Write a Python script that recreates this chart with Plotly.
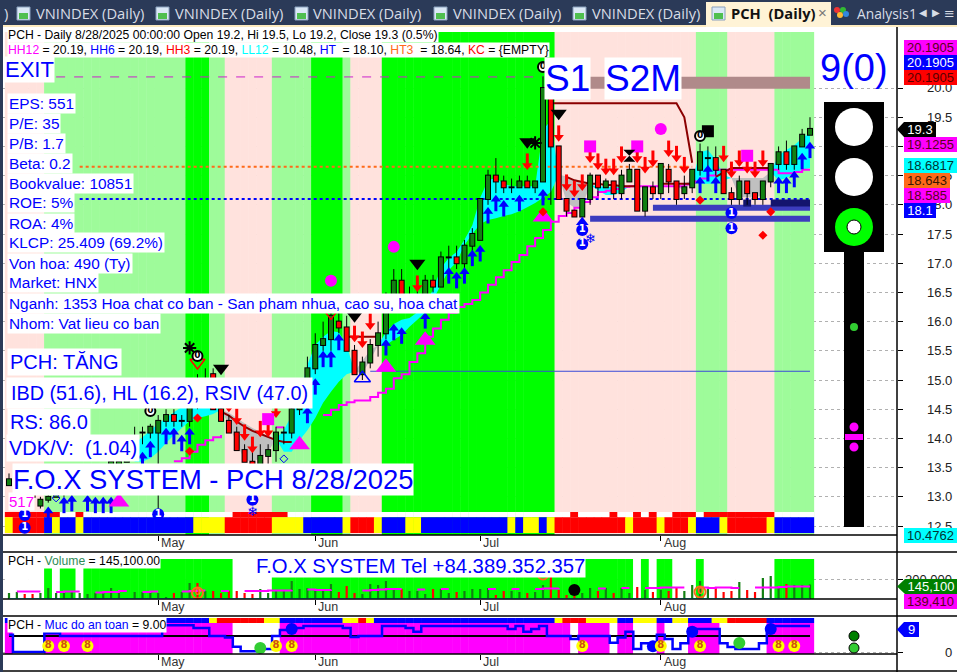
import plotly.graph_objects as go

# ---------------- data ----------------
opens = [13.2,13.3,13.3,13.2,12.85,12.95,13.0,13.1,13.1,13.2,13.2,13.3,13.4,13.4,13.5,13.6,13.8,14.1,14.1,14.1,14.3,14.4,14.3,14.3,
         15.0,14.9,15.1,14.5,14.3,14.1,13.8,13.6,13.5,13.7,13.8,14.1,14.1,14.5,14.6,15.2,15.6,15.7,16.0,15.9,15.5,15.1,15.3,15.6,15.8,
         16.4,16.7,16.4,16.3,16.4,16.7,16.6,17.1,17.1,17.0,17.3,17.4,18.1,18.5,18.4,18.3,18.3,18.4,18.3,18.4,20.0,19.0,18.1,17.9,17.8,
         18.1,18.5,18.3,18.4,18.2,18.4,18.6,17.9,18.3,18.2,18.6,18.4,18.2,18.3,18.6,18.8,18.8,18.6,18.2,18.1,18.4,18.2,18.1,18.4,18.7,
         18.9,18.7,19.0,19.2]
highs = [13.4,13.4,13.4,13.3,13.0,13.1,13.2,13.2,13.3,13.3,13.4,13.5,13.5,13.7,13.7,13.9,14.2,14.2,14.25,14.4,14.5,14.5,14.4,14.6,
         15.1,15.2,15.2,14.6,14.4,14.2,13.9,13.8,13.9,13.9,14.2,14.2,14.6,14.8,15.4,15.8,16.0,16.3,16.2,16.1,15.6,15.4,15.7,16.0,16.5,
         16.9,16.9,16.6,16.7,16.8,16.8,17.2,17.3,17.3,17.4,17.6,18.1,18.6,18.8,18.5,18.45,18.5,18.5,18.4,20.2,20.0,19.0,18.1,17.9,18.1,
         18.55,18.5,18.45,18.4,18.6,18.7,18.6,18.3,18.4,18.7,18.7,18.4,18.5,18.6,19.05,19.0,19.0,18.6,18.3,18.5,18.4,18.2,18.4,18.7,19.0,
         19.1,19.0,19.3,19.5]
lows = [13.2,13.2,13.2,13.0,12.8,12.9,13.0,13.0,13.0,13.1,13.1,13.2,13.3,13.3,13.5,13.6,13.7,13.9,14.0,12.8,14.2,14.2,14.2,14.2,
        14.5,14.7,14.5,14.3,14.1,13.8,13.6,13.5,13.4,13.5,13.6,13.9,14.0,14.4,14.5,15.1,15.5,15.5,15.8,15.5,15.1,15.0,15.2,15.4,15.7,
        16.2,16.3,16.2,16.2,16.2,16.5,16.6,16.8,16.9,16.9,17.2,17.4,18.0,18.2,18.2,18.2,18.3,18.3,18.2,18.4,18.0,18.1,17.8,17.8,17.8,
        18.0,18.15,18.3,18.1,18.1,18.4,17.9,17.8,18.1,18.1,18.2,18.0,18.1,18.2,18.5,18.6,18.5,18.2,18.0,18.0,18.0,18.0,18.0,18.3,18.6,
        18.6,18.6,19.0,19.2]
closes = [13.3,13.3,13.2,13.0,12.95,13.0,13.1,13.1,13.2,13.2,13.3,13.4,13.4,13.6,13.6,13.8,14.0,14.1,14.2,14.3,14.4,14.3,14.3,14.55,
          14.6,15.0,14.5,14.3,14.1,13.8,13.6,13.5,13.7,13.8,14.1,14.1,14.5,14.6,15.2,15.6,15.7,16.1,15.9,15.5,15.1,15.3,15.6,15.8,16.4,
          16.7,16.4,16.4,16.4,16.7,16.6,17.1,17.1,17.0,17.3,17.5,18.1,18.5,18.4,18.3,18.3,18.4,18.3,18.4,20.0,19.0,18.1,17.9,17.8,18.1,
          18.5,18.3,18.4,18.2,18.5,18.6,17.9,18.3,18.2,18.7,18.4,18.1,18.3,18.6,18.9,18.8,18.6,18.2,18.1,18.4,18.2,18.1,18.4,18.7,18.9,
          18.7,19.0,19.2,19.3]

band_codes = ["P"]*5+["L"]*18+["G"]*3+["L"]*2+["P"]*6+["L"]*5+["G"]*4+["L"]+["P"]*4+["G"]*22+["P"]*18+["L"]*4+["P"]*6+["L"]*5
strip_codes = ["Y"]+["R"]*4+["B"]+["Y"]+["B"]*2+["Y"]+["B"]*14+["Y"]*4+["R"]*6+["Y"]*4+["B"]*5+["Y"]+["R"]*3+["Y"]+["B"]*3+["Y"]*2+["B"]*11+["Y"]+["B"]+["Y"]*2+["B"]+["Y"]+["R"]*9+["Y"]+["R"]*3+["Y"]+["R"]*3+["Y"]+["B"]*3+["Y"]+["R"]*5+["Y"]+["B"]*5
top_codes = ["R"]*7+["W"]*2+["R"]+["W"]*19+["R"]*7+["W"]*36+["R"]+["W"]*4+["R"]+["W"]*2+["R"]+["W"]+["R"]+["W"]*2+["R"]*3+["W"]+["R"]*9+["W"]*5
vol_bg_codes = ["W"]*5+["G"]+["W"]+["G"]*2+["W"]+["G"]*19+["W"]*5+["G"]*46+["W"]+["G"]+["W"]+["G"]*2+["W"]*3+["G"]+["W"]*9+["G"]*5
safe_strip_codes = ["B"]*26+["Y"]+["R"]*6+["Y"]*2+["B"]*8+["Y"]*2+["R"]+["Y"]+["B"]*23+["Y"]+["R"]*3+["Y"]*4+["B"]*2+["Y"]*3+["B"]*2+["Y"]*2+["B"]*3+["Y"]*2+["R"]*5+["B"]*6
safe_fill_codes = ["M"]+["W"]*4+["M"]*24+["W"]*6+["M"]*37+["W"]+["M"]*4+["W"]+["M"]*2+["W"]*3+["M"]+["W"]*3+["M"]*4+["W"]*6+["M"]*6

volume_k = [60,70,50,50,60,110,60,70,70,60,50,60,60,110,80,10,70,70,80,60,20,60,70,160,160,80,80,60,80,80,60,50,100,60,80,80,180,100,
            110,90,100,150,70,130,60,50,150,140,180,100,100,80,80,50,100,100,60,70,80,100,100,110,40,80,80,70,60,70,140,220,90,40,30,60,110,80,
            110,60,110,60,120,90,70,90,80,120,80,140,180,100,110,70,80,170,90,70,210,230,130,150,140,140,145.1]
vol_ma_k = [None,75,75,75,75,None,70,75,75,75,None,65,70,70,80,80,None,70,75,75,None,None,75,80,85,85,None,80,80,None,80,80,80,85,85,85,90,None,
            95,90,90,95,None,85,None,85,90,95,100,100,100,None,95,95,None,100,100,None,95,None,None,100,100,None,100,100,None,100,105,105,110,None,105,None,None,
            105,105,None,110,110,None,110,110,115,115,115,115,None,115,110,115,115,110,110,None,115,115,115,120,125,125,125,125]
safety = [6,0,0,0,0,6.5,6.5,5.5,5.5,5.5,5.5,5.5,5.5,5.5,5.5,5.5,5.5,5.5,5.5,5.5,9.3,9.3,9.3,9.3,8.3,8.3,5.5,5.5,5,1.8,0.3,0.3,1,1,5.5,7.6,8.3,8.3,
          9,9,9,9,9,8.3,5.2,5.5,5.5,5.5,9,9,9,8.3,7,9,9,9,9,9,9,9,9,9,9,9,8,9,7,8,9,5.5,5.5,5.5,4.5,5.5,5.5,5.5,5.5,3.2,5,7,1,3,1,6,4.5,1,3,8,8,8,8,3,1.7,1,1,1,3,8,9,9,9,9,9]
safety_mid = 5.5

ll_line = [None]*21+[13.61,13.66,13.77,13.89,13.97,14.02,14.06]+[None]*6+[14.19,14.19]+[None]*4+[14.4,14.49,14.57,14.62,14.65,14.65,14.71,14.78,14.85,15.03,15.1,15.31,15.46,15.74,15.88,16.03,16.15,16.25,16.3,16.37,16.5,
           16.63,16.76,16.88,17.02,17.14,17.29,17.43,17.57,17.71,17.81,17.86,17.95,18.05,18.13,18.22,18.24,18.27,18.31,18.32,18.32,18.32,18.32,18.32,18.32,18.32,18.35,18.4,18.45,18.5,18.6,18.6,18.6,18.6,18.6,18.6,18.6,18.6,18.54,18.54,18.56,18.6,18.6]
maroon_top = [None]*69+[19.74]*17+[19.5,18.72]+[None]*15
maroon_low = [None]*27+[14.46,14.39,14.29,14.2,14.13,14.08,14.02,13.97,13.94,13.94]+[None]*6+[15.74]*5+[None]*23+[18.48,18.42,18.39,18.36,18.36,18.34,18.34,18.32,18.32,18.32]+[None]*2+[18.36]*5+[None]*2+[18.48,18.55,18.63,18.63,18.63,18.63,18.63,18.63]+[None]*5
fill_upper = [14.0]*16+[13.92,14.02,14.14,14.25,14.35,14.45,14.54,14.57,14.57,14.57,14.54,14.49,14.44,14.35,14.26,14.18,14.11,14.04,13.99,
              14.14,14.4,14.74,15.26,15.6,15.74,15.84,15.82,15.6,15.14,15.33,15.51,15.6,15.82,15.96,16.03,16.06,16.16,16.32,16.54,16.92,17.09,17.19,17.4,17.65,18.12,18.42,18.46,18.36,18.32,18.32,18.32,18.32,19.28,19.45,18.51,
              18.49,18.42,18.37,18.34,18.32,18.31,18.31,18.32,18.32,18.32,18.32,18.32,18.32,18.32,18.31,18.37,18.42,18.9,18.94,18.77,18.51,18.46,18.46,18.46,18.46,18.46,18.56,18.85,18.94,19.02,19.14,19.23]
fill_lower = [14.0]*16+[13.6,13.6,13.66,13.77,13.92,14.06,14.18,14.3,14.35,14.38,14.42,14.49,14.23,13.92,13.63,13.6,13.66,13.77,13.99,
              13.77,13.77,13.97,14.14,14.35,14.61,14.8,14.97,15.1,15.14,15.12,15.34,15.6,15.6,15.69,15.77,15.91,16.03,16.16,16.37,16.63,16.88,17.02,17.31,17.5,17.67,17.74,17.77,17.81,17.84,17.89,17.96,18.03,18.12,18.22,18.51,
              18.05,17.95,17.98,18.34,18.25,18.17,18.17,18.22,18.32,18.32,18.32,18.32,18.32,18.32,18.31,18.25,18.42,18.36,18.36,18.37,18.42,18.46,18.13,18.13,18.12,18.17,18.56,18.42,18.46,18.54,18.6,18.63]
fill_runs = [(16,27,"c"),(27,34,"g"),(34,44,"c"),(44,47,"g"),(47,70,"c"),(70,74,"g"),(74,79,"c"),(85,87,"g"),(87,92,"c"),(92,97,"g"),(97,102,"c")]

blue_up_idx = [5,7,8,10,11,12,13,17,18,20,21,22,23,38,39,40,41,42,48,49,50,53,56,57,58,59,60,61,62,63,65,68,88,89,90,98,99,100,101,102]
blue_up_tip = [12.83,13.0,13.03,13.03,13.0,13.0,13.0,13.77,13.96,14.18,14.18,14.06,14.18,14.54,15.03,15.5,15.5,15.79,15.7,15.96,15.9,16.16,16.93,16.85,16.93,17.23,17.31,17.96,18.17,18.08,18.17,18.27,18.48,18.68,18.48,18.48,18.48,18.58,18.89,19.08]
red_dn_idx = [28,29,30,31,32,33,34,44,45,46,52,66,70,71,72,73,74,75,76,77,78,80,81,82,84,85,86,91,92,93,94,95,96]
red_dn_tip = [14.45,14.23,13.96,13.75,14.02,14.02,14.35,15.65,15.55,15.86,16.51,18.6,19.08,18.24,18.13,18.24,18.72,18.6,18.51,18.51,18.72,18.72,18.54,18.65,18.82,18.73,18.54,18.73,18.46,18.65,18.54,18.46,18.65]

month_idx = [19,39,60,83]
month_names = ["May","Jun","Jul","Aug"]
price_ticks = [12.5,13,13.5,14,14.5,15,15.5,16,16.5,17,17.5,18,18.5,19,19.5,20]
info_lines = ["EPS: 551","P/E: 35","P/B: 1.7","Beta: 0.2","Bookvalue: 10851","ROE: 5%","ROA: 4%","KLCP: 25.409 (69.2%)","Von hoa: 490 (Ty)","Market: HNX",
              "Nganh: 1353 Hoa chat co ban - San pham nhua, cao su, hoa chat","Nhom: Vat lieu co ban"]

N = len(closes)
idx = list(range(N))
for name, arr in [("o",opens),("h",highs),("l",lows),("band",band_codes),("strip",strip_codes),("top",top_codes),("vbg",vol_bg_codes),("ss",safe_strip_codes),
                  ("sf",safe_fill_codes),("v",volume_k),("ma",vol_ma_k),("saf",safety),("ll",ll_line),("mt",maroon_top),("ml",maroon_low),("fu",fill_upper),("fl",fill_lower)]:
    if len(arr) != N:
        print("LEN", name, len(arr), N)
        arr.extend([arr[-1]]*(N-len(arr)))
        del arr[N:]

# ---------------- palette / geometry of the window ----------------
W, H = 957, 672
BLUE = "#0000ff"; MAG = "#ff00ff"; RED = "#ff0000"; CYAN = "#00ffff"; YEL = "#ffff00"
LGREEN = "#9efb9a"; BGREEN = "#00ff00"; PINK = "#ffe2dd"; CG = "#128012"; GRAY = "#c0c0c0"; MAROON = "#8b0000"; ORANGE = "#ff6a1a"
band_map = {"P":PINK,"L":LGREEN,"G":BGREEN}
strip_map = {"R":RED,"Y":YEL,"B":BLUE,"W":"#ffffff"}

def xp(px): return px/W
def yp(py): return 1-py/H

PRICE_LO, PRICE_HI = 12.346, 21.045
BAND_TOP = 20.96
STRIP_TOP, STRIP_MID, STRIP_BOT = 12.74, 12.65, 12.38
XR = [-0.764, 113.08]

fig = go.Figure()

def bars(vals, base, top, colors, xa="x", ya="y"):
    fig.add_trace(go.Bar(x=idx, y=[top-base]*N, base=base, width=1.06, marker=dict(color=colors, line=dict(width=0)),
                         xaxis=xa, yaxis=ya, showlegend=False, hoverinfo="skip"))

bars(idx, PRICE_LO, BAND_TOP, [band_map[c] for c in band_codes])
bars(idx, STRIP_MID, STRIP_TOP, [strip_map[c] for c in top_codes])
bars(idx, STRIP_BOT, STRIP_MID, [strip_map[c] for c in strip_codes])

# moving-average ribbons
for a, b, col in fill_runs:
    xs = list(range(a, b+1))
    c = CYAN if col == "c" else GRAY
    fig.add_trace(go.Scatter(x=xs+xs[::-1], y=fill_upper[a:b+1]+fill_lower[a:b+1][::-1], fill="toself", fillcolor=c,
                             mode="none", showlegend=False, hoverinfo="skip"))

def hline(a, b, v, color, width, dash="solid"):
    fig.add_trace(go.Scatter(x=[a,b], y=[v,v], mode="lines", line=dict(color=color,width=width,dash=dash), showlegend=False, hoverinfo="skip"))

hline(6, 68, 20.19, "#cc22cc", 1, "dash")
hline(9, 87, 18.65, ORANGE, 2, "dot")
hline(9, 102, 18.1, BLUE, 2, "dot")
hline(46, 102, 15.15, "#3a4bd8", 1)
hline(74, 102, 20.09, "#b08a8a", 12)
hline(82, 102, 17.95, "#3c3cbe", 6)
hline(74, 102, 17.76, "#3c3cbe", 6)
hline(97, 102, 18.03, "#14146e", 7)
hline(93.5, 94.5, 18.03, "#14146e", 7)

fig.add_trace(go.Scatter(x=idx, y=ll_line, mode="lines", line=dict(color=MAG,width=2,shape="hv"), showlegend=False, hoverinfo="skip"))
fig.add_trace(go.Scatter(x=idx, y=maroon_top, mode="lines", line=dict(color=MAROON,width=2), showlegend=False, hoverinfo="skip"))
fig.add_trace(go.Scatter(x=idx, y=maroon_low, mode="lines", line=dict(color=MAROON,width=2), showlegend=False, hoverinfo="skip"))

# candles: wicks, then outlined bodies (scatter layer, so they sit over the ribbons)
def seg(pairs, color, width):
    sx, sy = [], []
    for i, a, b in pairs:
        sx += [i, i, None]; sy += [a, b, None]
    fig.add_trace(go.Scatter(x=sx, y=sy, mode="lines", line=dict(color=color,width=width), showlegend=False, hoverinfo="skip"))
seg([(i, lows[i], highs[i]) for i in idx], "#000000", 1)
EDGE = 0.017
seg([(i, min(opens[i],closes[i])-EDGE, max(opens[i],closes[i])+EDGE) for i in idx], "#000000", 6)
seg([(i, opens[i], closes[i]) for i in idx if closes[i] > opens[i]], CG, 4)
seg([(i, closes[i], opens[i]) for i in idx if closes[i] < opens[i]], RED, 4)

def arrows(ix, tips, color, up=True):
    sgn = -1 if up else 1
    sx, sy = [], []
    for i, t in zip(ix, tips):
        sx += [i, i, None]; sy += [t+sgn*0.1, t+sgn*0.28, None]
    fig.add_trace(go.Scatter(x=sx, y=sy, mode="lines", line=dict(color=color,width=3), showlegend=False, hoverinfo="skip"))
    fig.add_trace(go.Scatter(x=ix, y=[t+sgn*0.075 for t in tips], mode="markers",
                             marker=dict(symbol="triangle-up" if up else "triangle-down", size=9, color=color, line=dict(width=0)),
                             showlegend=False, hoverinfo="skip"))
arrows(blue_up_idx, blue_up_tip, BLUE, True)
arrows(red_dn_idx, red_dn_tip, RED, False)

def mk(ix, ys, symbol, size, color, lc=None, lw=0, text=None, tc="#ffffff", ts=10, xa="x", ya="y"):
    fig.add_trace(go.Scatter(x=ix, y=ys, mode="markers+text" if text else "markers", cliponaxis=False,
        marker=dict(symbol=symbol, size=size, color=color, line=dict(color=lc or color, width=lw)),
        text=[text]*len(ix) if text else None, textposition="middle center",
        textfont=dict(family="DejaVu Sans", size=ts, color=tc), xaxis=xa, yaxis=ya, showlegend=False, hoverinfo="skip"))

mk([49,41,83],[17.28,16.7,19.3],"circle",12,MAG)
mk([74,80,94,33],[19.0,19.0,18.84,14.33],"square",12,MAG)
mk([14,37,53,48,68],[12.91,13.89,15.68,15.22,17.79],"triangle-up",18,MAG)
mk([52,27,44,66,70],[17.0,15.2,16.1,19.08,19.57],"triangle-down",14,"#000000")
mk([89],[19.26],"square",12,"#000000")
mk([79],[18.84],"hourglass",12,"#000000")
mk([24,23,68,88,97,96],[14.35,13.78,17.88,18.08,17.88,17.48],"diamond",7,RED)
mk([35,6],[13.65,12.98],"diamond-open",6,BLUE,BLUE,1)
mk([45],[15.03],"triangle-up-open",14,BLUE,BLUE,1.5)
mk([73],[17.7],"triangle-up",11,BLUE)
mk([24,41],[15.3,16.15],"triangle-down-open",13,RED,RED,1.5)
mk([23,67],[15.55,19.06],"asterisk-open",11,"#000000","#000000",2)
mk([88,18,24,68],[19.18,14.47,15.41,20.36],"circle",10,"#ffffff","#000000",2,"<b>0</b>","#000000",9)
mk([73,73,92,92,2,2,19,31],[17.57,17.33,17.86,17.6,12.69,12.47,12.7,12.95],"circle",12,BLUE,BLUE,0,"<b>1</b>","#ffffff",10)
mk([2,31,74],[12.26,12.72,17.4],"circle",1,"rgba(0,0,0,0)","rgba(0,0,0,0)",0,"❄",BLUE,13)

# volume pane
vol_colors = [CG if c >= o else RED for o, c in zip(opens, closes)]
vmap = {"G":BGREEN,"W":"#ffffff"}
bars(idx, 0, 400, [vmap[c] for c in vol_bg_codes], "x2", "y2")
fig.add_trace(go.Bar(x=idx, y=volume_k, width=0.28, marker=dict(color=vol_colors, line=dict(width=0)), xaxis="x2", yaxis="y2", showlegend=False, hoverinfo="skip"))
fig.add_trace(go.Scatter(x=idx, y=vol_ma_k, mode="lines", line=dict(color=MAG,width=2,shape="hv"), xaxis="x2", yaxis="y2", showlegend=False, hoverinfo="skip"))
fig.add_trace(go.Scatter(x=[0,102], y=[3,3], mode="lines", line=dict(color=CYAN,width=1), xaxis="x2", yaxis="y2", showlegend=False, hoverinfo="skip"))
mk([2,19,31,73,92],[-50]*5,"circle",12,BLUE,BLUE,0,"<b>1</b>","#ffffff",10,"x2","y2")
mk([18],[-50],"circle",11,"#ffffff",ORANGE,2,"<b>0</b>",ORANGE,9,"x2","y2")
mk([24,68,88],[60,250,70],"circle",11,"rgba(0,0,0,0)",ORANGE,2,"<b>0</b>",ORANGE,9,"x2","y2")
mk([72],[90],"circle",12,"#000000",xa="x2",ya="y2")

# safety pane
fmap = {"M":MAG,"W":"#ffffff"}
bars(idx, -0.69, 10.03, [fmap[c] for c in safe_fill_codes], "x3", "y3")
bars(idx, 10.03, 11.76, [strip_map[c] for c in safe_strip_codes], "x3", "y3")
fig.add_trace(go.Scatter(x=[0,102], y=[safety_mid]*2, mode="lines", line=dict(color="#000000",width=2), xaxis="x3", yaxis="y3", showlegend=False, hoverinfo="skip"))
fig.add_trace(go.Scatter(x=idx, y=safety, mode="lines", line=dict(color=BLUE,width=2.5,shape="hvh"), xaxis="x3", yaxis="y3", showlegend=False, hoverinfo="skip"))
mk([36,82,87,97],[8,2,7,8],"circle",12,BLUE,xa="x3",ya="y3")
mk([32,93],[1.4,3.1],"circle",12,"#32cd32",xa="x3",ya="y3")
mk([5,7,10,34,36,73,83,88,98,100],[2.1]*10,"circle",12,YEL,"#ffff00",0,"<b>8</b>","#d0500f",10,"x3","y3")
mk([0,5,7,10],[-3.5]*4,"circle",12,"#000000","#000000",0,"<b>9</b>","#ffffff",10,"x3","y3")
mk([2,19,31,73,92],[-3.5]*5,"circle",12,BLUE,BLUE,0,"<b>1</b>","#ffffff",10,"x3","y3")
mk([18,24,68,88],[-3.5]*4,"circle",11,"#ffffff",ORANGE,2,"<b>0</b>",ORANGE,9,"x3","y3")

# ---------------- chrome ----------------
shapes = []
def rect(x0,y0,x1,y1,fill,lc=None,lw=0):
    shapes.append(dict(type="rect",xref="paper",yref="paper",x0=xp(x0),x1=xp(x1),y0=yp(y0),y1=yp(y1),fillcolor=fill,line=dict(color=lc or fill,width=lw),layer="above"))
def circ(cx,cy,r,fill,lc=None,lw=0):
    shapes.append(dict(type="circle",xref="paper",yref="paper",x0=xp(cx-r),x1=xp(cx+r),y0=yp(cy-r),y1=yp(cy+r),fillcolor=fill,line=dict(color=lc or fill,width=lw),layer="above"))
def hl(x0,x1,y,c="#000000",w=1.5):
    shapes.append(dict(type="line",xref="paper",yref="paper",x0=xp(x0),x1=xp(x1),y0=yp(y),y1=yp(y),line=dict(color=c,width=w),layer="above"))
def poly(pts,fill):
    d = "M "+" L ".join(f"{xp(a):.5f},{yp(b):.5f}" for a,b in pts)+" Z"
    shapes.append(dict(type="path",xref="paper",yref="paper",path=d,fillcolor=fill,line=dict(width=0),layer="above"))

rect(0,0,W,25,"#2b3a58")
rect(0,25,W,27,"#fdebc0")
rect(0,25,3,H,"#2b3a58")
rect(706,2,831,27,"#fff3d6")
hl(3,897,535); hl(3,957,552); hl(3,897,599); hl(3,957,616); hl(3,897,654); hl(3,957,671)
shapes.append(dict(type="line",xref="paper",yref="paper",x0=xp(897),x1=xp(897),y0=yp(27),y1=yp(H),line=dict(color="#000000",width=1.5),layer="above"))
for ix0 in [17,156,295,434,573,712]:
    rect(ix0,7,ix0+13,20,"#dbe8f6","#8aa0bd",1)
    rect(ix0+2,13,ix0+11,19,"#4fbf4f")
for a,b,c in [(837,8,"#e33"),(843,8,"#3b3"),(840,13,"#fb3"),(846,12,"#38d")]:
    circ(a,b+2,3,c)
# traffic light
rect(824,102,884,252,"#000000")
rect(844,252,864,527,"#000000")
circ(854,127,19,"#ffffff"); circ(854,177,19,"#ffffff"); circ(854,227,19,BGREEN); circ(854,227,7,"#ffffff","#000000",1)
circ(854,327,4,"#32cd32")
circ(854,427,4.5,MAG); circ(854,447,4.5,MAG); rect(845,434,863,440,MAG)
circ(854,636,5,"#008000","#000000",1); circ(854,648,5,"#32cd32","#000000",1)

ann = []
def label(t,px,py,size,color="#000000",bg=None,anchor="left",font="Liberation Sans",pad=0):
    ann.append(dict(text=t,xref="paper",yref="paper",x=xp(px),y=yp(py),xanchor=anchor,yanchor="middle",showarrow=False,
                    font=dict(family=font,size=size,color=color),bgcolor=bg,borderpad=pad,align="left"))

# tabs
label(")",3,13,14.7,"#d8dde6",font="Open Sans")
for tx in [35,174,312,452,591]:
    label("VNINDEX (Daily)",tx,13,14.7,"#d8dde6",font="Open Sans")
label("<b>PCH  (Daily)</b>",730,13,14.7,"#111111",font="Open Sans")
label("×",817,12,15,"#777777")
label("Analysis1",856,13,13.8,"#d8dde6",font="Open Sans")
label("◀",918,12,10,"#d8dde6",font="DejaVu Sans"); label("▶",931,12,10,"#d8dde6",font="DejaVu Sans"); label("≡",943,13,13,"#d8dde6",font="DejaVu Sans")

# price axis labels
for t in price_ticks:
    label(f"{t:.1f}",953,88+(20-t)*58.4,13,"#222222",anchor="right")
label("200,000",953,579,13,"#222222",anchor="right")
label("0",953,652,13,"#222222",anchor="right")

def chip(t,y0,y1,x0,x1,bg,fg,arrow=False):
    if arrow:
        poly([(897,(y0+y1)/2),(x0,y0),(x0,y1)],bg)
    ann.append(dict(text=t,xref="paper",yref="paper",x=xp(x0),y=yp((y0+y1)/2),xanchor="left",yanchor="middle",showarrow=False,
                    width=x1-x0,height=y1-y0,bgcolor=bg,borderpad=0,borderwidth=0,align="center",valign="middle",
                    font=dict(family="Liberation Sans",size=13,color=fg)))
chip("20.1905",40,55,904,957,MAG,"#5a0020")
chip("20.1905",55,70,904,957,BLUE,"#ffffff")
chip("20.1905",70,85,904,957,RED,"#5a0000")
chip("19.3",122,137,904,936,"#000000","#ffffff",True)
chip("19.1255",137,152,904,957,MAG,"#5a0020")
chip("18.6817",158,173,904,957,CYAN,"#003333")
chip("18.643",173,188,904,950,ORANGE,"#3a1500")
chip("18.585",188,203,904,950,MAG,"#5a0020")
chip("18.1",203,218,904,936,BLUE,"#ffffff")
chip("10.4762",528,543,904,957,CYAN,"#003333")
chip("145,100",579,594,905,957,"#008000","#ffffff",True)
chip("139,410",594,609,904,957,MAG,"#5a0020")
chip("9",622,637,904,919,BLUE,"#ffffff",True)

# month labels from the month list
for i, m in zip(month_idx, month_names):
    for ya, py in [("x",543),("x2",607),("x3",662)]:
        ann.append(dict(text=m,xref=ya,yref="paper",x=i,y=yp(py),xanchor="left",yanchor="middle",xshift=1,showarrow=False,
                        font=dict(family="Liberation Sans",size=12.5,color="#333333")))

# header
label("PCH - Daily 8/28/2025 00:00:00 Open 19.2, Hi 19.5, Lo 19.2, Close 19.3 (0.5%)",7,35,12.2,"#000000","#ffffff")
def sp(t,c): return f'<span style="color:{c}">{t}</span>'
label(sp("HH12",MAG)+" = 20.19, "+sp("HH6",BLUE)+" = 20.19, "+sp("HH3",RED)+" = 20.19, "+sp("LL12",CYAN)+" = 10.48, "+sp("HT",BLUE)+"  = 18.10, "+sp("HT3",ORANGE)+"  = 18.64, "+sp("KC",RED)+" = {EMPTY}",7,50,12.2,"#000000","#ffffff")
label("EXIT",4,70,22,BLUE,"#ffffff")
for k, t in enumerate(info_lines):
    label(t,7,103+20*k,15.4,BLUE,"#ffffff",pad=1)
label("PCH: TĂNG",7,362,20,BLUE,"#ffffff",pad=2)
label("IBD (51.6), HL (16.2), RSIV (47.0)",6,393,19.8,BLUE,"#ffffff",pad=4)
label("RS: 86.0",7,422,20,BLUE,"#ffffff",pad=2)
label("VDK/V:  (1.04)",6,448,20,BLUE,"#ffffff",pad=2)
label("F.O.X SYSTEM - PCH 8/28/2025",12,479,27.4,BLUE,"#ffffff")
label("517",8,501,15,MAG,"#ffffff")
label("S1",544,78,37,BLUE,"#ffffff",pad=0)
label("S2M",604,78,37,BLUE,"#ffffff",pad=0)
label("9(0)",819,68,38,BLUE)
label("F.O.X SYSTEM Tel +84.389.352.357",255,566,20.3,BLUE,"#ffffff")
label("PCH - "+sp("Volume","#2e8b57")+" = 145,100.00",7,561,12.2,"#000000","#ffffff")
label("PCH - "+sp("Muc do an toan",BLUE)+" = 9.00",7,625,12.2,"#000000","#ffffff")

dom_x = [xp(3), xp(897)]
xbase = dict(range=XR, domain=dom_x, showgrid=False, zeroline=False, showticklabels=False, tickmode="array", tickvals=month_idx,
             ticks="outside", ticklen=5, tickcolor="#000000", showline=False, fixedrange=True)
ybase = dict(side="right", zeroline=False, showticklabels=False, showline=False, griddash="dot", gridcolor="#b0b0b0", gridwidth=1,
             ticks="outside", ticklen=5, tickcolor="#000000", tickmode="array", fixedrange=True)

fig.update_layout(
    width=W, height=H, autosize=False, margin=dict(l=0,r=0,t=0,b=0), paper_bgcolor="#ffffff", plot_bgcolor="#ffffff",
    barmode="overlay", showlegend=False, hovermode=False,
    xaxis=dict(xbase, anchor="y"),
    xaxis2=dict(xbase, anchor="y2"),
    xaxis3=dict(xbase, anchor="y3"),
    yaxis=dict(ybase, anchor="x", domain=[yp(535),yp(27)], range=[PRICE_LO,PRICE_HI], tickvals=price_ticks),
    yaxis2=dict(ybase, anchor="x2", domain=[yp(599),yp(552)], range=[0,470], tickvals=[200]),
    yaxis3=dict(ybase, anchor="x3", domain=[yp(654),yp(616)], range=[-0.69,12.46], tickvals=[0]),
    shapes=shapes, annotations=ann,
)
fig.write_html("out.html", config=dict(displayModeBar=False), post_script="document.body.style.margin='0';document.documentElement.style.overflow='hidden';")
